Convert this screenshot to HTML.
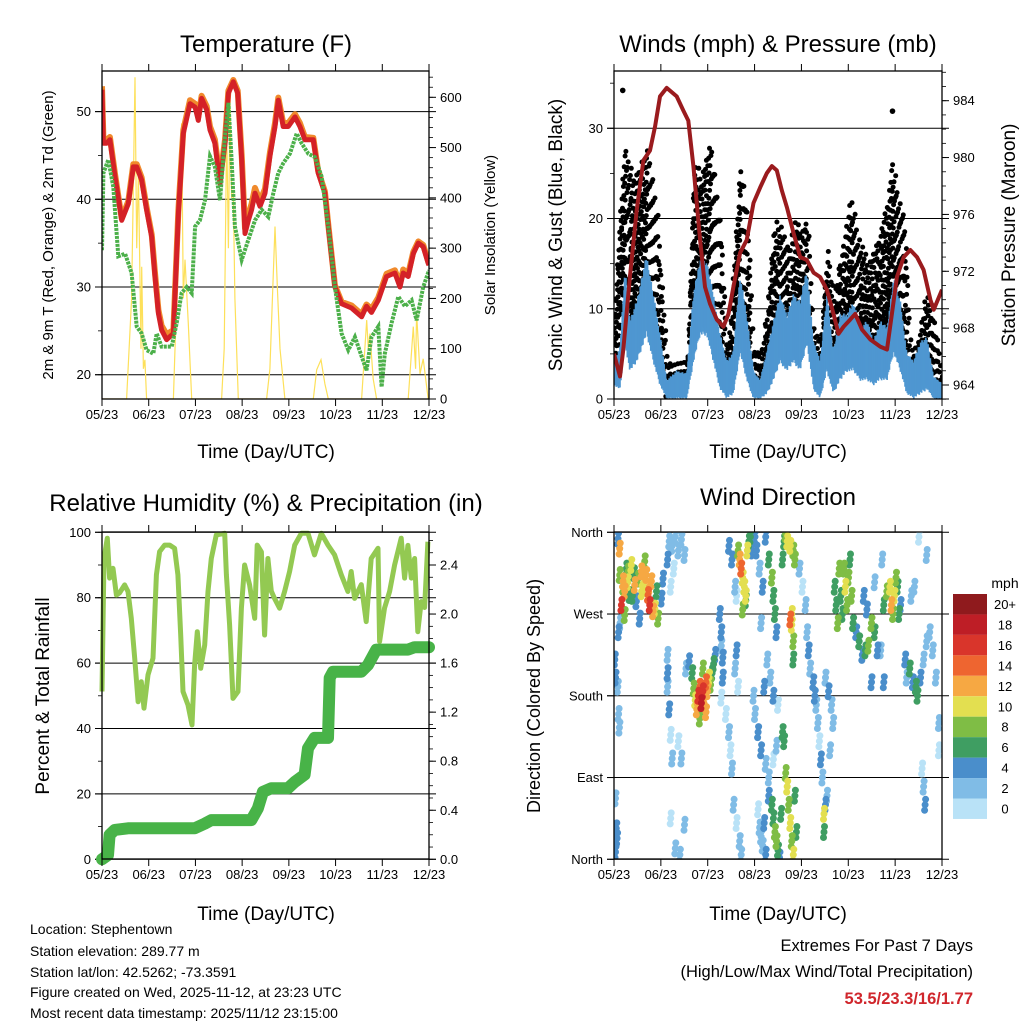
<!DOCTYPE html>
<html><head><meta charset="utf-8"><title>Station charts</title>
<style>
html,body{margin:0;padding:0;background:#fff;}
svg{display:block;font-family:"Liberation Sans",Arial,sans-serif;}
</style></head>
<body>
<svg id="root" xmlns="http://www.w3.org/2000/svg" width="1024" height="1024" viewBox="0 0 1024 1024">
<rect x="0" y="0" width="1024" height="1024" fill="#fff"/>
<text x="266" y="52" font-size="24" text-anchor="middle">Temperature (F)</text>
<text x="778" y="52" font-size="24" text-anchor="middle">Winds (mph) &amp; Pressure (mb)</text>
<text x="266" y="511" font-size="24" text-anchor="middle">Relative Humidity (%) &amp; Precipitation (in)</text>
<text x="778" y="505" font-size="24" text-anchor="middle">Wind Direction</text>
<text x="266" y="458" font-size="19" text-anchor="middle">Time (Day/UTC)</text>
<text x="778" y="458" font-size="19" text-anchor="middle">Time (Day/UTC)</text>
<text x="266" y="920" font-size="19" text-anchor="middle">Time (Day/UTC)</text>
<text x="778" y="920" font-size="19" text-anchor="middle">Time (Day/UTC)</text>
<text transform="translate(53,235) rotate(-90)" font-size="15" text-anchor="middle">2m &amp; 9m T (Red, Orange) &amp; 2m Td (Green)</text>
<text transform="translate(495,235) rotate(-90)" font-size="15" text-anchor="middle">Solar Insolation (Yellow)</text>
<text transform="translate(562,235) rotate(-90)" font-size="19" text-anchor="middle">Sonic Wind &amp; Gust (Blue, Black)</text>
<text transform="translate(1015,235) rotate(-90)" font-size="19" text-anchor="middle">Station Pressure (Maroon)</text>
<text transform="translate(49,696) rotate(-90)" font-size="19" text-anchor="middle">Percent &amp; Total Rainfall</text>
<text transform="translate(540,696) rotate(-90)" font-size="18" text-anchor="middle">Direction (Colored By Speed)</text>
<g font-size="14">
<text x="30" y="934">Location: Stephentown</text>
<text x="30" y="956">Station elevation: 289.77 m</text>
<text x="30" y="977">Station lat/lon: 42.5262; -73.3591</text>
<text x="30" y="997">Figure created on Wed, 2025-11-12, at 23:23 UTC</text>
<text x="30" y="1018">Most recent data timestamp: 2025/11/12 23:15:00</text>
</g>
<g font-size="16.5" text-anchor="end">
<text x="973" y="951">Extremes For Past 7 Days</text>
<text x="973" y="977">(High/Low/Max Wind/Total Precipitation)</text>
<text x="973" y="1004" fill="#d0262c" font-weight="bold">53.5/23.3/16/1.77</text>
</g>
<text x="1005" y="588" font-size="14" text-anchor="middle">mph</text>
</svg>
<script>
// ---------- shared axis data ----------
const monthLabels = ['05/23','06/23','07/23','08/23','09/23','10/23','11/23','12/23'];
const spanDays = 214;
// ---------- temperature panel ----------
const tDays = [0,0.9,3.1,5.2,8.5,12.9,17.2,20.5,22.7,25.9,29.2,32.5,34.7,36.9,39,42.3,46.7,50,53.2,57.6,60.9,63,65.2,68.5,70.7,73.9,77.2,80.5,82.7,85.9,88.8,91.4,93.6,95.8,97.9,100.1,103.4,106.7,109.9,113.2,115.4,118.6,121.9,126.3,129.5,132.8,138.3,141.5,145.9,148.1,152.4,156.8,163.3,169.9,173.1,176.4,180.8,186.2,191.7,195,197.1,200.4,203.7,207,210.2,213.5,214];
const temp2m = [52.5,46.4,46.4,46.8,42.6,37.6,39.5,43.7,43.7,42.2,38.8,35.7,31.2,27,25.1,24,24.7,38.4,47.5,50.9,50.5,49,51.5,50.2,47.9,46.4,41.8,46.4,52.1,53.4,52.1,44.5,36.1,37.6,38.8,40.7,39.2,40.7,44.9,48.3,51.3,48.3,48.3,49.4,48.3,46.8,46.8,43,40.7,36.9,30,28.1,27.6,26.6,27.8,27.1,28.5,31.2,31.6,30,31.6,31.2,33.8,35,34.6,32.7,32.5];
const temp9m = [52.9,46.9,46.8,47.1,42.9,37.8,39.8,44,44,42.5,39.1,36,31.6,27.4,25.6,24.6,25.1,38.8,47.9,51.3,50.9,49.4,51.8,50.6,48.3,46.8,42.3,46.8,52.4,53.6,52.4,45,36.7,38.3,39.5,41.3,39.8,41.2,45.3,48.7,51.6,48.7,48.7,49.7,48.7,47.1,47,43.2,40.9,37.1,30.2,28.3,27.9,26.9,28,27.5,28.8,31.5,31.9,30.4,32,31.5,34,35.2,34.8,32.9,32.7];
const tdDays = [0,0.9,4.1,7.4,10.7,15.1,19.4,22.7,26,29.2,33.6,35.8,39,45.6,48.9,52.1,55.4,58.7,60.9,64.1,67.4,70.7,73.9,77.2,80.5,82.7,84.8,87,91.4,95.8,100.1,104.5,108.8,112.1,115.4,118.6,123,127.4,130.6,135,139.4,143.7,148.1,152.4,156.8,161.2,165.5,169.9,173.1,176.4,180.8,183,185.1,189.5,193.9,198.2,202.6,205.9,210.2,214];
const dewpoint = [34.2,43,44.5,41.4,33.5,33.8,31.6,25.5,24.7,22.8,22.4,24.7,23.2,23.2,25.9,29.3,30,29.3,36.9,37.6,39.9,44.9,43.7,39.9,47.1,51,44.5,36.9,33.1,35.4,37.6,38.8,38,40.7,43,44.1,45.2,47.5,46.4,45.2,44.8,42.6,36.9,30,24.7,22.8,24.3,22.1,20.5,24.3,25.5,18.6,22.4,25.9,28.9,27.8,28.5,26.2,30,31.9];
const solarDays = [0,16.1,19.4,21.6,22.7,23.8,25.5,26,27.1,28.1,29.2,46.7,47.8,50,52.1,53.2,54.3,56.5,58.7,78.3,80,81.6,82.7,83.8,84.8,85.9,87,89.2,107.7,109.9,113.2,114.9,116.5,119.7,138.3,140.5,143.3,145.9,148.1,169.9,173.2,174.3,175.3,177.5,179.7,200.4,203.7,205.2,205.9,208.1,210.2,213.5,214];
const solar = [0,0,200,640,300,450,100,263,60,78,0,0,100,300,548,200,277,150,0,0,100,541,300,594,400,409,200,0,0,60,343,210,100,0,0,58,78,30,0,0,157,100,130,40,0,0,144,60,171,50,80,0,0];
const tempTicks = [20,30,40,50];
const solarTicks = [0,100,200,300,400,500,600];
// ---------- wind panel ----------
const windDays = [0,3.9,7.2,10.4,14.8,21.3,25.7,30,34.4,40.9,47.5,51.8,56.2,60.5,64.9,69.2,73.6,77.9,82.3,86.6,91,95.4,99.7,104.1,108.4,112.8,117.1,121.5,125.8,130.2,134.5,138.9,143.2,147.6,151.9,156.3,160.7,165,169.4,173.7,178.1,182.4,186.8,191.1,195.5,199.8,204.2,208.6,214];
const windHi = [4.3,5.8,14.6,8.8,11,16.1,11.7,7.3,2.1,3.2,2.9,11.7,15.7,15.4,11.7,7.3,4.3,5.4,13.9,9.5,3.2,2.1,5.4,8.8,11.7,9.5,11.7,11,14.6,6.5,4.3,11.7,5.4,9.5,9.5,11,8,8.8,6.5,8.8,8,13.5,11,5.1,4.3,6.5,6.9,2.5,1.8];
const windLo = [1.5,1,6,3,4,7,4,1.5,0,0,0,4,7,7,4,1,0,0.5,5,2,0,0,0.5,2,4,3,4,3,6,1,0,3,0.5,2,3,3,2,2,1.5,2,2,5,3,0.5,0,0.5,1,0,0];
const gustDays = [0,2.8,6.1,12.6,21.3,27.9,34.4,38.8,47.5,51.8,56.2,62.7,69.2,73.6,82.3,86.6,91,95.4,99.7,104.1,108.4,112.8,117.1,121.5,125.8,130.2,134.5,138.9,143.2,147.6,154.1,158.5,165,171.5,178.1,180.3,184.6,189,193.3,197.7,202,206.4,212.9];
const gustHi = [11,19,28.2,24.6,27.9,20.9,4.3,4.3,4.3,26.4,25.3,28.6,19,5.4,27.1,20.1,5.4,5.1,11,19.8,19.8,16.8,20.1,19,20.1,8,7.3,16.5,11.7,16.1,22.7,19,15.4,17.6,22,27.1,23.5,20.1,5.8,6.2,11,11.7,4.3];
const gustOutDays = [5.7,181.7];
const gustOutVals = [34.2,31.9];
const presDays = [0,3.9,6.1,10.4,14.8,19.2,23.5,26.8,30,34.4,40.9,45.3,48.5,51.8,56.2,59.4,62.7,67.1,71.4,74.7,77.9,82.3,86.6,91,95.4,99.7,103,106.2,109.5,112.8,117.1,121.5,125.8,130.2,134.5,138.9,143.2,146.5,149.8,154.1,157.4,161.8,167.2,173.7,178.1,181.3,184.6,189,193.3,197.7,202,206.4,208.6,214];
const pressure = [966.2,964.6,966.5,971.6,976.3,979.8,980.5,982.2,984.3,984.9,984.3,983.3,982.6,979.4,974.2,970.9,969.7,968.6,968.1,969,970.9,973.3,974.2,976.8,977.9,978.9,979.4,979.1,977.7,976.5,974.7,973,972.8,971.9,971.6,970.7,969,967.6,968.1,968.6,969,967.9,967.2,966.7,966.5,969,971.6,973,973.5,973,972.1,970,969.3,970.7];
const windTicks = [0,10,20,30];
const presTicks = [964,968,972,976,980,984];
// ---------- humidity panel ----------
const rhDays = [0,1.3,3.5,5,7.2,9.4,11.5,14.8,17,19.2,21.4,23.6,25.7,27.5,30.1,33.4,35.6,37.7,41,44.3,47.5,49.7,51.5,53,56.3,58.9,60.6,62.4,64.6,67.2,69.4,71.5,74.8,80.3,81.4,83.5,85.7,89,91.2,93.3,96.6,99.9,101.6,104.3,106.4,108.6,110.8,112.9,116.2,119.5,122.8,126.1,130.4,134.8,139.1,143.5,147.9,152.2,156.6,160.9,163.1,165.3,169.7,172.9,176.2,180.6,181.7,184.9,188.2,191.5,195.8,198,200.2,202.4,204.6,206.7,208.9,211.1,213.3];
const rh = [51.3,92,98.2,86,89,80.8,81.5,83.9,81.9,73.7,61.5,48.2,54.3,46.2,56.4,61.5,87,94.1,96.1,96.1,95.1,87,68.6,51.3,47.2,41.1,59.4,69.6,58.4,65.5,81.9,92,99.2,99.7,87,71.7,49.2,51.3,76.8,90,83.9,73.7,96.1,94,68.6,92,82,79.8,76.8,81.9,88,96.1,99.7,99.7,93.1,99.7,96.1,93.1,87,81.9,88,79.8,84,72.7,92,95.1,66.6,76.8,81.9,90,98.2,86,96,86,92,69.6,78.8,77,97.1];
const rainDays = [0,3.9,5,8.3,17,60.6,67.2,71.5,97.7,102,105.3,110.8,121.7,126.1,132.6,134.8,139.1,147.9,149,151.2,169.7,174.1,179.5,200.2,204.6,214];
const rain = [0,0.035,0.2,0.24,0.253,0.253,0.29,0.32,0.32,0.416,0.55,0.58,0.58,0.63,0.69,0.905,0.99,0.99,1.48,1.53,1.53,1.585,1.71,1.71,1.73,1.73];
const rhTicks = [0,20,40,60,80,100];
const rainTicks = ['0.0','0.4','0.8','1.2','1.6','2.0','2.4'];
// ---------- wind direction panel ----------
const dirLabels = ['North','East','South','West','North'];
const dirTicks = [0,90,180,270,360];
const speedLabels = ['20+','18','16','14','12','10','8','6','4','2','0'];
const speedColors = ['#8f1a1d','#be1e26','#d9352b','#ee6530','#f6a843','#e3df50','#7fbd45','#3f9e62','#4a8ecb','#80bce6','#b9e2f7'];
const wdDays = [3.7,4.8,5.9,7,8.1,9.2,10.2,11.3,13.5,14.6,15.7,16.8,17.9,19,20,21.1,22.2,23.3,24.4,25.5,26.6,27.7,28.8,31,32,2.6,3.7,7,12,18,23,6,9,13,
0.5,1,2.5,3,3.5,1,1.5,2,1,4,3,
36,38,40,42,44,46,39,37,35,35,35,35,36,37,38,42,44,37,40,43,46,49,47,
51,52,53,54,55,56,57,58,59,60,61,62,63,64,60,56,58,65,66,
69,70,70,71,71,70,73,75,76,77,79,80,81,78,80,82,83,
75,77,79,80,82,83,84,85,86,87,88,84,86,81,89,90,
92,93,95,97,99,101,103,104,105,106,96,100,102,98,104,107,91,92,94,96,99,101,104,106,
101,103,104,105,106,107,108,109,110,111,112,113,114,115,116,117,118,119,96,97,98,99,94,95,
115,116,117,117,116,112,113,115,117,118,110,111,
121,123,125,126,127,128,130,131,132,133,134,135,136,138,137,137,139,
144,145,146,147,148,149,150,151,152,153,154,155,156,158,160,162,164,166,168,170,172,
176,178,180,181,182,183,184,185,186,187,
190,191,193,195,197,198,200,202,204,206,208,210,212,212,201,202,203,199,204,196,194,
138,140,142,143,141,163,165,170,175,168,176,174];
const wdDir = [313,280,306,295,320,317,291,324,302,284,309,265,317,298,328,313,291,280,306,273,276,295,265,287,309,353,342,269,290,295,300,300,305,315,
220,200,190,160,145,67,34,23,8,260,250,
350,345,355,340,352,335,320,300,330,225,205,190,165,137,111,130,111,45,12,5,38,218,210,
205,188,175,165,180,190,172,185,178,195,185,200,192,205,162,155,210,215,225,
270,250,235,222,200,178,160,140,120,100,210,230,190,60,40,20,5,
345,330,300,290,330,320,310,300,290,340,350,275,285,340,355,340,
355,340,320,300,355,330,310,290,270,250,260,220,200,190,180,170,180,160,140,120,105,90,110,125,
70,60,45,30,20,10,2,50,140,130,95,80,60,40,20,5,70,30,25,15,40,5,55,35,
264,258,240,220,270,358,350,345,340,330,330,350,
320,300,280,250,230,210,195,180,170,150,130,110,90,60,30,50,70,
300,280,260,320,290,270,320,300,280,310,330,290,260,250,240,225,230,235,260,250,230,
280,295,300,280,270,290,310,300,270,280,
220,200,210,195,190,180,200,220,240,250,230,200,150,120,100,80,60,355,335,300,290,
200,185,170,150,120,290,275,305,330,195,195,230];
const wdSpd = [8,16,12,12,6,8,6,10,12,4,8,4,12,10,8,12,14,16,12,12,10,6,8,4,4,4,12,8,6,10,12,8,10,6,
4,4,2,2,2,2,4,4,4,2,4,
2,2,2,2,2,2,0,0,4,2,4,2,4,0,2,0,2,0,2,2,2,4,2,
6,8,10,12,16,14,18,16,12,14,12,10,8,6,12,8,8,6,4,
4,4,2,4,4,0,0,2,0,2,2,4,0,2,0,2,2,
4,4,2,0,12,14,10,10,10,10,6,8,6,8,6,4,
4,4,2,4,4,6,8,6,6,4,2,2,2,4,4,0,2,2,4,4,2,2,0,2,
4,6,6,8,8,6,4,6,6,6,8,10,8,10,8,10,6,6,2,2,4,4,0,2,
14,10,8,6,10,8,10,10,8,8,6,6,
2,0,2,2,4,2,4,4,2,2,0,4,2,4,6,10,2,
6,6,8,8,6,6,8,10,8,8,6,8,6,4,6,4,6,8,8,6,4,
6,8,10,12,8,10,8,6,6,4,
4,2,6,4,6,6,4,2,2,2,2,2,2,0,0,2,4,0,2,2,2,
2,4,2,2,2,4,4,2,2,4,4,2];

// ---------- helpers ----------
const NS = 'http://www.w3.org/2000/svg';
const root = document.getElementById('root');
function mk(tag, attrs, parent) {
  const e = document.createElementNS(NS, tag);
  for (const k in attrs) e.setAttribute(k, attrs[k]);
  (parent || root).appendChild(e);
  return e;
}
function lin(d0, d1, p0, p1) { return v => p0 + (v - d0) * (p1 - p0) / (d1 - d0); }
function interp(xs, ys, x) {
  if (x <= xs[0]) return ys[0];
  for (let i = 1; i < xs.length; i++) {
    if (x <= xs[i]) { const f = (x - xs[i-1]) / (xs[i] - xs[i-1]); return ys[i-1] + f * (ys[i] - ys[i-1]); }
  }
  return ys[ys.length - 1];
}
function pathOf(xs, ys, sx, sy) {
  let d = '';
  for (let i = 0; i < xs.length; i++) d += (i ? 'L' : 'M') + sx(xs[i]).toFixed(1) + ' ' + sy(ys[i]).toFixed(1);
  return d;
}
function colorFor(s) {
  const idx = Math.min(10, Math.max(0, Math.round(s / 2)));
  return speedColors[10 - idx];
}

const panels = {
  temp: {L:102, R:429, T:71, B:399},
  wind: {L:614, R:942, T:71, B:399},
  hum:  {L:102, R:429, T:532, B:859},
  dir:  {L:614, R:942, T:532, B:859}
};

function frame(p, name) {
  const r = mk('rect', {x:p.L, y:p.T, width:p.R-p.L, height:p.B-p.T, fill:'none', stroke:'#000', 'stroke-width':1.3});
  
  
}
function timeAxis(p, name) {
  const g = mk('g', {});
  
  
  for (let i = 0; i < monthLabels.length; i++) {
    const x = p.L + i * (p.R - p.L) / (monthLabels.length - 1);
    mk('line', {x1:x, x2:x, y1:p.B, y2:p.B+7, stroke:'#000', 'stroke-width':1}, g);
    mk('line', {x1:x, x2:x, y1:p.T, y2:p.T-7, stroke:'#000', 'stroke-width':1}, g);
    const t = mk('text', {x:x, y:p.B+20, 'font-size':13, 'text-anchor':'middle'}, g);
    t.textContent = monthLabels[i];
    
    
  }
}
function yAxis(p, side, sy, ticks, labels, minorStep, lo, hi, name, grid) {
  const g = mk('g', {});
  
  
  const x0 = side === 'left' ? p.L : p.R;
  const dir = side === 'left' ? -1 : 1;
  for (let v = lo; v <= hi + 1e-9; v += minorStep) {
    const y = sy(v);
    if (y < p.T - 0.5 || y > p.B + 0.5) continue;
    mk('line', {x1:x0, x2:x0 + dir*4, y1:y, y2:y, stroke:'#000', 'stroke-width':0.8}, g);
  }
  for (let i = 0; i < ticks.length; i++) {
    const y = sy(ticks[i]);
    if (grid) mk('line', {x1:p.L-7, x2:p.R+7, y1:y, y2:y, stroke:'#000', 'stroke-width':1}, g);
    mk('line', {x1:x0, x2:x0 + dir*7, y1:y, y2:y, stroke:'#000', 'stroke-width':1}, g);
    const t = mk('text', {x: x0 + dir*11, y: y + 4.5, 'font-size':13, 'text-anchor': side === 'left' ? 'end' : 'start'}, g);
    t.textContent = labels[i];
    
    
  }
}

// ---------- Temperature panel ----------
(function(){
  const p = panels.temp;
  const sx = lin(0, spanDays, p.L, p.R);
  const sy = lin(20, 50, 374.7, 111.6);
  const ss = lin(0, 600, 399, 97.3);
  yAxis(p, 'left', sy, tempTicks, tempTicks.map(String), 5, 20, 55, 'temperature-y-axis', true);
  yAxis(p, 'right', ss, solarTicks, solarTicks.map(String), 20, 0, 640, 'solar-y-axis', false);
  const clip = mk('clipPath', {id:'clipT'});
  mk('rect', {x:p.L, y:p.T, width:p.R-p.L, height:p.B-p.T}, clip);
  const g = mk('g', {'clip-path':'url(#clipT)'});
  
  
  const sol = mk('path', {d:pathOf(solarDays, solar, sx, ss), fill:'none', stroke:'#fde05a', 'stroke-width':1.2}, g);
  
  
  const o = mk('path', {d:pathOf(tDays, temp9m, sx, sy), fill:'none', stroke:'#f08a2c', 'stroke-width':6, 'stroke-linejoin':'round'}, g);
  
  
  const r = mk('path', {d:pathOf(tDays, temp2m, sx, sy), fill:'none', stroke:'#d42127', 'stroke-width':5, 'stroke-linejoin':'round'}, g);
  
  
  const gr = mk('path', {d:pathOf(tdDays, dewpoint, sx, sy), fill:'none', stroke:'#4cb04a', 'stroke-width':4, 'stroke-dasharray':'3 1'}, g);
  
  
  frame(p, 'temperature');
  timeAxis(p, 'temperature');
})();

// ---------- Wind panel ----------
(function(){
  const p = panels.wind;
  const sx = lin(0, spanDays, p.L, p.R);
  const sy = lin(0, 30, 399, 128.3);
  const sp = lin(964, 984, 385, 100.7);
  yAxis(p, 'left', sy, windTicks, windTicks.map(String), 5, 0, 36, 'wind-y-axis', true);
  yAxis(p, 'right', sp, presTicks, presTicks.map(String), 1, 963, 987, 'pressure-y-axis', false);
  const clip = mk('clipPath', {id:'clipW'});
  mk('rect', {x:p.L, y:p.T, width:p.R-p.L, height:p.B-p.T}, clip);
  const g = mk('g', {'clip-path':'url(#clipW)'});
  
  
  const gg = mk('g', {fill:'#000'}, g);
  
  
  let i = 0;
  for (let d = 0; d <= spanDays; d += 0.5, i++) {
    const hi = interp(gustDays, gustHi, d);
    const lo = Math.max(0, interp(windDays, windHi, d) - 2);
    const n = Math.max(1, Math.round((hi - lo) / 2.4));
    for (let k = 0; k < n; k++) {
      const f = ((i * 0.754877 + k * 0.569840) % 1);
      const v = lo + (hi - lo) * Math.pow(f, 1.3);
      const c = mk('circle', {cx:(sx(d) + (f - 0.5) * 2.5).toFixed(1), cy:sy(v).toFixed(1), r:2.5}, gg);
      
      
    }
  }
  for (let j = 0; j < gustOutDays.length; j++) {
    const c = mk('circle', {cx:sx(gustOutDays[j]), cy:sy(gustOutVals[j]), r:2.8}, gg);
    
    
  }
  const wb = mk('g', {stroke:'#4f97d1', 'stroke-width':1.7}, g);
  
  
  let m = 0;
  for (let d = 0; d <= spanDays; d += 0.3, m++) {
    const hi = interp(windDays, windHi, d);
    const lo = interp(windDays, windLo, d);
    const f = (m * 0.618034) % 1;
    const h2 = hi - f * (hi - lo) * 0.2;
    const l2 = lo + ((m * 0.41421) % 1) * (hi - lo) * 0.15;
    mk('line', {x1:sx(d), x2:sx(d), y1:sy(l2), y2:sy(h2)}, wb);
  }
  const pl = mk('path', {d:pathOf(presDays, pressure, sx, sp), fill:'none', stroke:'#9a1b1e', 'stroke-width':4, 'stroke-linejoin':'round'}, g);
  
  
  frame(p, 'wind');
  timeAxis(p, 'wind');
})();

// ---------- Humidity panel ----------
(function(){
  const p = panels.hum;
  const sx = lin(0, spanDays, p.L, p.R);
  const sy = lin(0, 100, 859.3, 532.3);
  const sr = lin(0, 2.4, 859.3, 565);
  yAxis(p, 'left', sy, rhTicks, rhTicks.map(String), 10, 0, 100, 'humidity-y-axis', true);
  yAxis(p, 'right', sr, rainTicks.map(Number), rainTicks, 0.1, 0, 2.65, 'rain-y-axis', false);
  const g = mk('g', {});
  
  
  const hl = mk('path', {d:pathOf(rhDays, rh, sx, sy), fill:'none', stroke:'#93c952', 'stroke-width':5, 'stroke-linejoin':'round'}, g);
  
  
  const rl = mk('path', {d:pathOf(rainDays, rain, sx, sr), fill:'none', stroke:'#48b348', 'stroke-width':12, 'stroke-linejoin':'round', 'stroke-linecap':'round'}, g);
  
  
  frame(p, 'humidity');
  timeAxis(p, 'humidity');
})();

// ---------- Wind direction panel ----------
(function(){
  const p = panels.dir;
  const sx = lin(0, spanDays, p.L, p.R);
  const sy = lin(0, 360, 859.3, 532.3);
  yAxis(p, 'left', sy, dirTicks, dirLabels, 1000, 0, 0, 'direction-y-axis', true);
  const clip = mk('clipPath', {id:'clipD'});
  mk('rect', {x:p.L, y:p.T, width:p.R-p.L, height:p.B-p.T}, clip);
  const g = mk('g', {'clip-path':'url(#clipD)'});
  
  
  const order = wdSpd.map((s, i) => i).sort((a, b) => wdSpd[a] - wdSpd[b]);
  const offs = [[0,0],[0.5,-5.5],[-0.5,5.5]];
  for (const i of order) {
    for (const o of offs) {
      const c = mk('circle', {cx:(sx(wdDays[i]) + o[0]).toFixed(1), cy:(sy(wdDir[i]) + o[1]).toFixed(1), r:3.5, fill:colorFor(wdSpd[i])}, g);
      
      
    }
  }
  frame(p, 'direction');
  timeAxis(p, 'direction');
  const cb = mk('g', {});
  
  
  for (let i = 0; i < speedLabels.length; i++) {
    const y = 594 + i * 20.45;
    const b = mk('rect', {x:953, y:y, width:34, height:20.45, fill:speedColors[i]}, cb);
    
    
    const t = mk('text', {x:1005, y:y + 15, 'font-size':13, 'text-anchor':'middle'}, cb);
    t.textContent = speedLabels[i];
    
    
  }
})();
</script>
</body></html>
